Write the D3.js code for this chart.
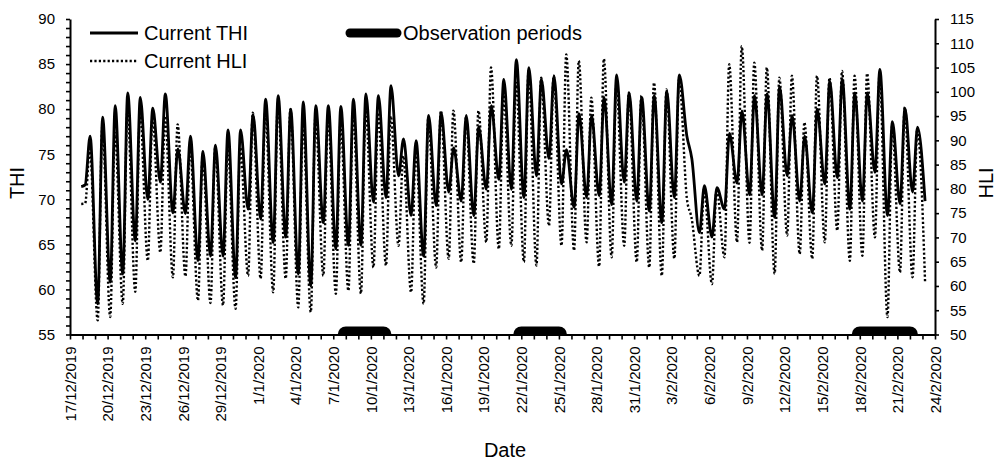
<!DOCTYPE html>
<html>
<head>
<meta charset="utf-8">
<script src="https://cdn.jsdelivr.net/npm/d3@7"></script>
<style>
  body { margin: 0; background: #fff; }
  text { font-family: "Liberation Sans", Arial, sans-serif; fill: #000; }
</style>
</head>
<body>
<svg id="chart" width="997" height="463"></svg>
<script>
// tick labels on the date axis (every 3 days)
const xTickLabels = ["17/12/2019", "20/12/2019", "23/12/2019", "26/12/2019", "29/12/2019",
  "1/1/2020", "4/1/2020", "7/1/2020", "10/1/2020", "13/1/2020", "16/1/2020", "19/1/2020",
  "22/1/2020", "25/1/2020", "28/1/2020", "31/1/2020", "3/2/2020", "6/2/2020", "9/2/2020",
  "12/2/2020", "15/2/2020", "18/2/2020", "21/2/2020", "24/2/2020"];

// first reading late on 17/12, then one low (early morning) and one high (afternoon) per day from 18/12
const firstReading = ["17/12/2019", 21.5];
const thiFirst = 71.4;
const hliFirst = 76.9;
const seriesStart = "18/12/2019";

const thiMin = [71.6, 58.4, 60.8, 61.7, 65.4, 70.0, 71.9, 68.5, 68.4, 63.2, 63.7, 63.7, 61.3,
  68.9, 67.8, 65.2, 65.8, 61.7, 60.4, 67.4, 64.5, 64.9, 64.9, 69.7, 70.2, 72.6, 68.2,
  63.7, 69.3, 70.8, 69.8, 68.2, 71.1, 72.2, 71.1, 70.2, 72.6, 74.5,
  71.7, 69.1, 70.2, 70.4, 69.4, 71.9, 69.8, 68.7, 67.4, 70.2,
  77.0, 66.3, 65.8, 68.9, 71.8, 70.5, 70.5,
  68.0, 72.6, 69.8, 68.5, 71.7, 72.4, 68.9, 69.8, 73.0, 68.2, 69.5, 70.8, 69.8];
const thiMax = [77.0, 79.1, 80.4, 81.8, 81.3, 80.1, 81.7, 75.6, 77.0, 75.3, 76.0, 77.7, 77.7,
  79.4, 81.1, 81.5, 80.0, 80.8, 80.4, 80.4, 80.3, 81.1, 81.7, 81.5, 82.6, 76.7, 76.5,
  79.3, 79.6, 75.7, 79.3, 78.0, 80.4, 83.3, 85.5, 84.6, 83.3, 83.7,
  75.5, 79.5, 79.3, 81.3, 83.8, 81.8, 81.3, 81.5, 82.0, 83.8,
  74.5, 71.5, 71.3, 77.3, 79.8, 81.5, 81.7,
  82.5, 79.3, 77.0, 80.0, 83.1, 83.3, 81.8, 81.8, 84.4, 78.6, 80.1, 78.0, null];
const hliMin = [77.0, 52.9, 53.6, 56.3, 58.8, 65.2, 66.9, 61.8, 62.0, 57.0, 56.5, 56.0, 55.3,
  62.1, 61.5, 58.7, 61.5, 55.6, 54.6, 62.1, 58.4, 59.0, 58.4, 63.8, 64.2, 68.3, 58.7,
  56.3, 63.8, 65.6, 64.9, 64.6, 69.0, 67.6, 68.3, 64.9, 64.2, 72.4,
  68.3, 67.3, 69.0, 64.0, 65.9, 68.3, 64.9, 63.8, 62.1, 65.6,
  78.0, 62.1, 60.4, 65.9, 69.0, 68.9, 67.3,
  62.5, 70.4, 66.6, 65.6, 69.0, 71.4, 65.2, 66.2, 70.0, 53.6, 62.8, 61.8, 60.8];
const hliMax = [88.2, 93.0, 91.6, 96.1, 95.7, 95.0, 95.0, 93.3, 88.5, 86.8, 88.5, 88.5, 88.5,
  95.7, 96.1, 97.8, 96.4, 93.7, 95.0, 95.0, 93.8, 95.7, 96.4, 95.7, 95.0, 86.8, 88.2,
  94.7, 96.1, 96.1, 94.7, 96.1, 105.0, 99.8, 101.9, 104.6, 102.9, 103.3,
  107.7, 106.4, 98.8, 106.8, 101.6, 99.8, 99.2, 101.9, 100.5, 102.6,
  74.0, 80.0, 80.0, 105.7, 109.4, 106.0, 105.0,
  102.9, 103.3, 93.7, 103.3, 102.9, 104.3, 103.3, 103.8, 103.9, 93.0, 96.8, 92.3, null];

const lowHour = 5;
const highHour = 14.5;

const obsPeriods = [["8/1/2020", "11/1/2020"], ["22/1/2020", "25/1/2020"], ["18/2/2020", "22/2/2020"]];

const thiTicks = d3.range(55, 91);
const hliTicks = d3.range(50, 116, 5);
const legendLabels = ["Current THI", "Current HLI", "Observation periods"];

const parse = d3.timeParse("%d/%m/%Y");
const fmt = d3.timeFormat("%-d/%-m/%Y");

const svg = d3.select("#chart");
const margin = {top: 19, right: 62, bottom: 128.5, left: 70};
const width = 997 - margin.left - margin.right;
const height = 463 - margin.top - margin.bottom;

const x = d3.scaleTime()
  .domain([parse(xTickLabels[0]), parse(xTickLabels[xTickLabels.length - 1])])
  .range([0, width]);
const yL = d3.scaleLinear().domain([55, 90]).range([height, 0]);
const yR = d3.scaleLinear().domain([50, 115]).range([height, 0]);

// turn the daily lows / highs into time-ordered readings
const hours = (d, h) => new Date(d.getTime() + h * 3600 * 1000);
const day0 = parse(seriesStart);
const thiPts = [{t: hours(parse(firstReading[0]), firstReading[1]), v: thiFirst}];
const hliPts = [{t: hours(parse(firstReading[0]), firstReading[1]), v: hliFirst}];
thiMin.forEach((v, i) => {
  const d = d3.timeDay.offset(day0, i);
  thiPts.push({t: hours(d, lowHour), v: v});
  if (thiMax[i] != null) thiPts.push({t: hours(d, highHour), v: thiMax[i]});
  hliPts.push({t: hours(d, lowHour), v: hliMin[i]});
  if (hliMax[i] != null) hliPts.push({t: hours(d, highHour - 0.5), v: hliMax[i]});
});

const g = svg.append('g')
  .attr('transform', 'translate(' + margin.left + ',' + margin.top + ')');

g.append('clipPath').attr('id', 'plotclip')
  .append('rect').attr('x', 0).attr('y', 0).attr('width', width).attr('height', height);

// observation bars along the bottom axis
g.append('g').attr('clip-path', 'url(#plotclip)')
  .selectAll('line')
  .data(obsPeriods)
  .enter().append('line')
  .attr('x1', d => x(parse(d[0])))
  .attr('x2', d => x(parse(d[1])))
  .attr('y1', yL(55))
  .attr('y2', yL(55))
  .attr('stroke', '#000')
  .attr('stroke-width', 16)
  .attr('stroke-linecap', 'round');

const thiLine = d3.line().x(d => x(d.t)).y(d => yL(d.v)).curve(d3.curveMonotoneX);
const hliLine = d3.line().x(d => x(d.t)).y(d => yR(d.v)).curve(d3.curveMonotoneX);

g.append('path')
  .datum(thiPts)
  .attr('d', thiLine)
  .attr('fill', 'none')
  .attr('stroke', '#000')
  .attr('stroke-width', 2.8)
  .attr('stroke-linejoin', 'round');

g.append('path')
  .datum(hliPts)
  .attr('d', hliLine)
  .attr('fill', 'none')
  .attr('stroke', '#000')
  .attr('stroke-width', 2.4)
  .attr('stroke-dasharray', '2.2,2.2');

// x axis: a tick every day, a label every 3 days
const labelled = xTickLabels.map(s => +parse(s));
const xAxis = g.append('g')
  .attr('transform', 'translate(0,' + height + ')')
  .call(d3.axisBottom(x)
    .tickValues(d3.timeDay.range(x.domain()[0], d3.timeDay.offset(x.domain()[1], 1)))
    .tickSize(5).tickSizeOuter(0)
    .tickFormat(d => labelled.includes(+d) ? fmt(d) : ''));
xAxis.selectAll('text')
  .attr('transform', 'rotate(-90)')
  .attr('text-anchor', 'end')
  .attr('x', -12).attr('y', 0).attr('dy', '0.35em')
  .style('font-size', '15px');

const yAxisL = g.append('g')
  .call(d3.axisLeft(yL).tickValues(thiTicks).tickSize(4).tickSizeOuter(0).tickPadding(11)
    .tickFormat(d => d % 5 === 0 ? d : ''));
yAxisL.selectAll('text').style('font-size', '15px');

const yAxisR = g.append('g')
  .attr('transform', 'translate(' + width + ',0)')
  .call(d3.axisRight(yR).tickValues(hliTicks).tickSize(4).tickSizeOuter(0).tickPadding(11));
yAxisR.selectAll('text').style('font-size', '15px');

g.selectAll('.domain').attr('stroke', '#000').attr('stroke-width', 2);
g.selectAll('.tick line').attr('stroke', '#000').attr('stroke-width', 1.6);

// axis titles
svg.append('text')
  .attr('transform', 'translate(24,183) rotate(-90)')
  .attr('text-anchor', 'middle')
  .style('font-size', '20px')
  .text('THI');
svg.append('text')
  .attr('transform', 'translate(993,183) rotate(-90)')
  .attr('text-anchor', 'middle')
  .style('font-size', '20px')
  .text('HLI');
svg.append('text')
  .attr('x', 505).attr('y', 457)
  .attr('text-anchor', 'middle')
  .style('font-size', '20px')
  .text('Date');

// legend
const legend = svg.append('g');
legend.append('line').attr('x1', 90).attr('x2', 138).attr('y1', 33).attr('y2', 33)
  .attr('stroke', '#000').attr('stroke-width', 3);
legend.append('line').attr('x1', 90).attr('x2', 138).attr('y1', 61).attr('y2', 61)
  .attr('stroke', '#000').attr('stroke-width', 2.4).attr('stroke-dasharray', '2.2,2.2');
legend.append('line').attr('x1', 350).attr('x2', 397).attr('y1', 33).attr('y2', 33)
  .attr('stroke', '#000').attr('stroke-width', 9).attr('stroke-linecap', 'round');
legend.selectAll('text')
  .data(legendLabels)
  .enter().append('text')
  .attr('x', (d, i) => i < 2 ? 144 : 403)
  .attr('y', (d, i) => i === 1 ? 61 : 33)
  .attr('dy', '0.35em')
  .style('font-size', '20px')
  .text(d => d);
</script>
</body>
</html>
